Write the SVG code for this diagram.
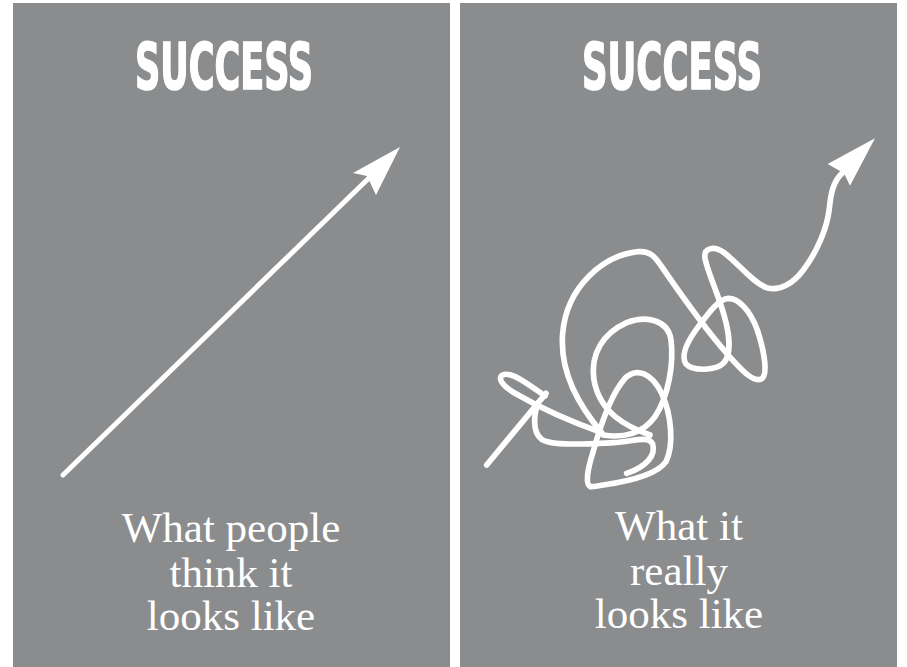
<svg xmlns="http://www.w3.org/2000/svg" width="907" height="667" viewBox="0 0 907 667">
  <style>
    .panel { fill: #8b8c8e; }
    .title { font-family: "Liberation Sans Narrow", "DejaVu Sans Condensed", "Liberation Sans", sans-serif; font-weight: bold; font-size: 64px; fill: #ffffff; stroke: #ffffff; stroke-width: 1.6; text-anchor: middle; }
    .caption { font-family: "Liberation Serif", "DejaVu Serif", serif; font-size: 43px; fill: #ffffff; text-anchor: middle; }
    .line { fill: none; stroke: #ffffff; stroke-width: 5; stroke-linecap: round; stroke-linejoin: round; }
    .sq { fill: none; stroke: #ffffff; stroke-width: 17; stroke-linecap: round; stroke-linejoin: round; }
    .head { fill: #ffffff; }
  </style>
  <rect x="0" y="0" width="907" height="667" fill="#ffffff"/>

  <g id="panel-left">
    <rect class="panel" x="13" y="3" width="437" height="664"/>
    <text class="title" x="224" y="89" textLength="178" lengthAdjust="spacingAndGlyphs">SUCCESS</text>
    <text class="caption" x="231" y="542">What people</text>
    <text class="caption" x="231" y="587">think it</text>
    <text class="caption" x="231" y="630">looks like</text>
  </g>

  <g id="panel-right">
    <rect class="panel" x="460" y="3" width="437" height="664"/>
    <text class="title" x="672" y="89" textLength="180" lengthAdjust="spacingAndGlyphs">SUCCESS</text>
    <text class="caption" x="679" y="540">What it</text>
    <text class="caption" x="679" y="585">really</text>
    <text class="caption" x="679" y="628">looks like</text>
  </g>

  <g id="connectors">
    <g id="arrow-straight">
      <line class="line" x1="63" y1="475" x2="370" y2="177"/>
      <polygon class="head" points="400,147 376,195 367,176 353,173"/>
    </g>
    <g id="arrow-squiggle" transform="translate(470,120) scale(0.3333333)">
      <path class="sq" d="M 50,1035 L 228,820"/>
      <path class="sq" d="M 225,828 C 185,800 125,752 98,765 C 80,775 100,800 135,820 C 230,875 330,915 395,938 C 330,860 268,760 278,640 C 290,500 400,405 505,395 C 540,392 555,410 575,440 C 630,520 700,620 770,700 C 810,745 845,785 872,778 C 895,770 885,700 862,630 C 840,570 805,535 775,535 C 745,537 715,580 685,620 C 655,660 630,705 648,732 C 670,755 740,752 762,728 C 785,700 778,640 762,585 C 742,515 712,455 705,415 C 700,385 730,375 762,398 C 805,430 850,490 890,503 C 930,515 970,490 1000,450 C 1045,390 1072,320 1078,265 C 1082,225 1088,185 1118,158"/>
      <path class="sq" d="M 205,848 C 192,880 185,935 215,958 C 245,978 350,972 430,968 C 490,965 535,945 548,972 C 558,1005 530,1040 470,1060"/>
      <path class="sq" d="M 362,1100 C 345,1095 352,1050 368,1000 C 390,920 425,820 465,775 C 500,740 545,760 575,820 C 605,885 612,975 588,1025 C 560,1065 470,1085 400,1095 C 380,1098 370,1100 362,1100"/>
      <path class="sq" d="M 540,945 C 470,920 390,880 372,780 C 360,700 400,640 470,608 C 530,585 595,600 603,660 C 612,730 595,830 555,890 C 520,940 460,955 400,945"/>
      <polygon class="head" points="1215,55 1140,197 1122,160 1073,132"/>
    </g>
  </g>
</svg>
